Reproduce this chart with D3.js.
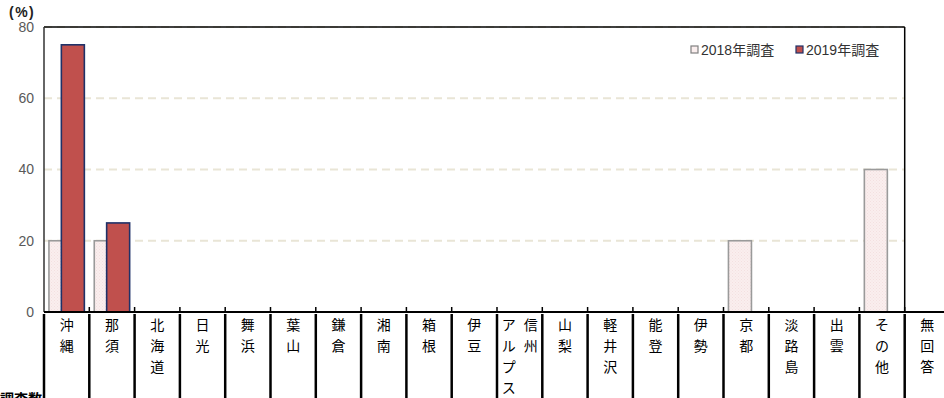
<!DOCTYPE html>
<html>
<head>
<meta charset="utf-8">
<script src="https://cdn.jsdelivr.net/npm/d3@7"></script>
<style>
  body { margin: 0; background: #fff; }
  svg { display: block; }
  text { font-family: "Liberation Sans", "Noto Sans CJK JP", sans-serif; }
  .jp { font-family: "Noto Sans CJK JP", sans-serif; }
</style>
</head>
<body>
<svg id="graph" width="944" height="398"></svg>
<script>
// données
const categories = ["沖縄","那須","北海道","日光","舞浜","葉山","鎌倉","湘南","箱根","伊豆","信州アルプス","山梨","軽井沢","能登","伊勢","京都","淡路島","出雲","その他","無回答"];
const series = ["2018年調査", "2019年調査"];
const values2018 = [20,20,0,0,0,0,0,0,0,0,0,0,0,0,0,20,0,0,40,0];
const values2019 = [75,25,0,0,0,0,0,0,0,0,0,0,0,0,0,0,0,0,0,0];
const yTicks = [0, 20, 40, 60, 80];
// colonnes d'étiquettes (écriture verticale, de droite à gauche)
const labelColumns = { "信州アルプス": ["信州", "アルプス"] };

const svg = d3.select("#graph");
const mLeft = 44, mTop = 27, mBottom = 312, step = 45.3;
const plotRight = mLeft + step * 19; // le cadre s'arrête avant "無回答"

const x = d3.scaleBand().domain(categories).range([mLeft, mLeft + step * categories.length]).padding(0);
const y = d3.scaleLinear().domain([0, 80]).range([mBottom, mTop]);
const sub = d3.scalePoint().domain(series).range([-6.2, 6.2]);
const barW = 23;

// motif pour 2018
const defs = svg.append("defs");
const pat = defs.append("pattern").attr("id", "p2018").attr("width", 3).attr("height", 3).attr("patternUnits", "userSpaceOnUse");
pat.append("rect").attr("width", 3).attr("height", 3).attr("fill", "#faeeee");
pat.append("rect").attr("width", 1).attr("height", 1).attr("fill", "#f3e0e0");
pat.append("rect").attr("x", 1.5).attr("y", 1.5).attr("width", 1).attr("height", 1).attr("fill", "#f5e4e4");

// grille
svg.append("g")
  .selectAll("line")
  .data(yTicks.filter(d => d > 0))
  .join("line")
  .attr("x1", mLeft).attr("x2", plotRight)
  .attr("y1", d => y(d)).attr("y2", d => y(d))
  .attr("stroke", "#e9e5d6").attr("stroke-width", 2).attr("stroke-dasharray", "8,5");

// étiquettes de l'axe Y
svg.append("g")
  .selectAll("text")
  .data(yTicks)
  .join("text")
  .attr("x", 34).attr("y", d => y(d))
  .attr("dy", "0.35em")
  .attr("text-anchor", "end")
  .attr("fill", "#595959")
  .attr("font-size", 14)
  .text(d => d);

svg.append("text")
  .attr("x", 9).attr("y", 17)
  .attr("font-size", 14).attr("font-weight", "bold").attr("fill", "#222")
  .attr("letter-spacing", 1.5)
  .text("(%)");

// barres
const bars = [
  { key: series[0], vals: values2018, fill: "url(#p2018)", stroke: "#9a9a9a" },
  { key: series[1], vals: values2019, fill: "#c0504d", stroke: "#1f3168" }
];
bars.forEach(s => {
  svg.append("g")
    .selectAll("rect")
    .data(categories.map((c, i) => ({ c, v: s.vals[i] })).filter(d => d.v > 0))
    .join("rect")
    .attr("x", d => x(d.c) + x.bandwidth() / 2 + sub(s.key) - barW / 2)
    .attr("y", d => y(d.v))
    .attr("width", barW)
    .attr("height", d => y(0) - y(d.v))
    .attr("fill", s.fill)
    .attr("stroke", s.stroke)
    .attr("stroke-width", 1.6);
});

// cadre
svg.append("line").attr("x1", mLeft).attr("x2", plotRight).attr("y1", mTop).attr("y2", mTop).attr("stroke", "#000").attr("stroke-width", 1.5);
svg.append("line").attr("x1", mLeft).attr("x2", mLeft).attr("y1", mTop).attr("y2", mBottom).attr("stroke", "#333").attr("stroke-width", 1.5);
svg.append("line").attr("x1", plotRight).attr("x2", plotRight).attr("y1", mTop).attr("y2", mBottom).attr("stroke", "#000").attr("stroke-width", 1.5);
svg.append("line").attr("x1", mLeft).attr("x2", 944).attr("y1", mBottom).attr("y2", mBottom).attr("stroke", "#000").attr("stroke-width", 2);

// petits traits de l'axe X et séparateurs du tableau
const bounds = categories.map(c => x(c));
svg.append("g")
  .selectAll("line")
  .data(bounds.slice(1))
  .join("line")
  .attr("x1", d => d).attr("x2", d => d)
  .attr("y1", mBottom - 5).attr("y2", mBottom)
  .attr("stroke", "#000").attr("stroke-width", 1.5);
svg.append("g")
  .selectAll("line")
  .data(bounds)
  .join("line")
  .attr("x1", d => d).attr("x2", d => d)
  .attr("y1", mBottom + 2).attr("y2", 398)
  .attr("stroke", "#000").attr("stroke-width", 2.5);

// étiquettes verticales
const lab = svg.append("g").attr("class", "jp").attr("font-size", 14).attr("fill", "#000").attr("text-anchor", "middle");
categories.forEach(c => {
  const cols = labelColumns[c] || [c];
  const cx = x(c) + x.bandwidth() / 2;
  cols.forEach((col, k) => {
    const colX = cols.length === 1 ? cx : cx + 11 - k * 22;
    Array.from(col).forEach((ch, j) => {
      lab.append("text").attr("x", colX).attr("y", 330 + j * 21).text(ch);
    });
  });
});

// libellé de ligne du tableau (coupé en bas, comme dans l'original)
svg.append("text").attr("class", "jp")
  .attr("x", 0).attr("y", 404)
  .attr("font-size", 14).attr("font-weight", "bold").attr("fill", "#000")
  .text("調査数");

// légende
const leg = svg.append("g").attr("font-size", 14).attr("fill", "#333");
const legX = [691, 796];
bars.forEach((s, i) => {
  leg.append("rect").attr("x", legX[i]).attr("y", 46).attr("width", 7).attr("height", 7)
    .attr("fill", i === 0 ? "#faeeee" : s.fill).attr("stroke", i === 0 ? "#808080" : s.stroke).attr("stroke-width", 1.2);
  leg.append("text").attr("x", legX[i] + 10).attr("y", 50).attr("dy", "0.35em").text(s.key);
});
</script>
</body>
</html>
